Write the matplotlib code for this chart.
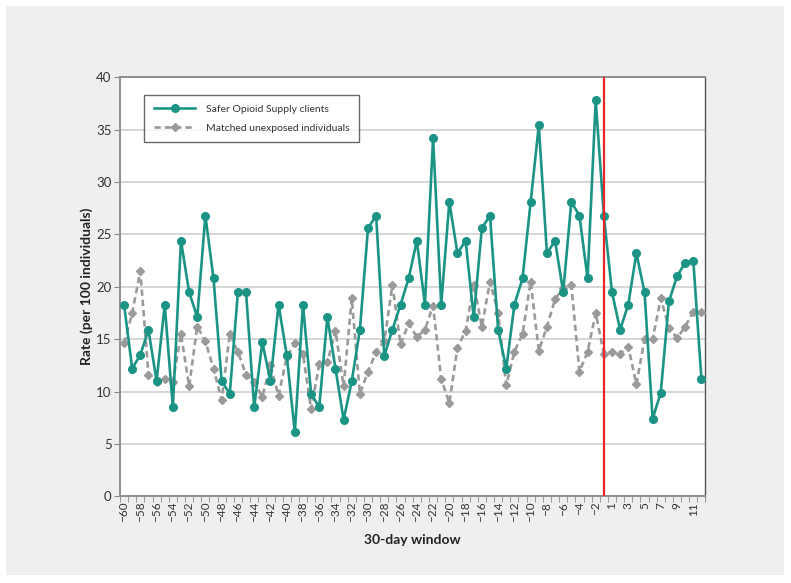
import numpy as np
import matplotlib
matplotlib.use("Agg")
import matplotlib.pyplot as plt
from matplotlib.patches import Rectangle

# 30-day windows: -60..-1, then 1..12 (no window 0)
windows = list(range(-60, 0)) + list(range(1, 13))

sos_clients = [
    18.3, 12.2, 13.5, 15.9, 11.0, 18.3, 8.5, 24.4, 19.5, 17.1,
    26.8, 20.8, 11.0, 9.8, 19.5, 19.5, 8.5, 14.7, 11.0, 18.3,
    13.5, 6.1, 18.3, 9.8, 8.5, 17.1, 12.2, 7.3, 11.0, 15.9,
    25.6, 26.8, 13.4, 15.9, 18.3, 20.8, 24.4, 18.3, 34.2, 18.3,
    28.1, 23.2, 24.4, 17.1, 25.6, 26.8, 15.9, 12.2, 18.3, 20.8,
    28.1, 35.4, 23.2, 24.4, 19.5, 28.1, 26.8, 20.8, 37.8, 26.8,
    19.5, 15.9, 18.3, 23.2, 19.5, 7.4, 9.9, 18.6, 21.0, 22.3,
    22.5, 11.2,
]

matched_unexposed = [
    14.6, 17.5, 21.5, 11.6, 10.9, 11.2, 10.9, 15.5, 10.5, 16.2,
    14.8, 12.2, 9.2, 15.5, 13.8, 11.6, 10.9, 9.5, 12.5, 9.6,
    13.3, 14.6, 13.6, 8.3, 12.6, 12.8, 15.8, 10.5, 18.9, 9.8,
    11.9, 13.8, 14.8, 20.2, 14.5, 16.5, 15.2, 15.9, 18.2, 11.2,
    8.9, 14.2, 15.8, 20.2, 16.2, 20.5, 17.5, 10.6, 13.8, 15.5,
    20.5, 13.9, 16.2, 18.8, 19.9, 20.2, 11.9, 13.8, 17.5, 13.6,
    13.8, 13.6, 14.3, 10.7, 15.0, 15.0, 18.9, 16.1, 15.1, 16.2,
    17.6, 17.6,
]

plt.rcParams["font.family"] = ["Lato", "DejaVu Sans"]

fig = plt.figure(figsize=(7.91, 5.83), dpi=100)
fig.patch.set_facecolor("white")
# light grey panel behind the chart
fig.patches.append(Rectangle((6 / 791, 8 / 583), 778 / 791, 569 / 583,
                             transform=fig.transFigure, facecolor="#eef0ef",
                             edgecolor="none", zorder=-1))

ax = fig.add_axes([0.1517, 0.1487, 0.7402, 0.7187])
ax.set_facecolor("white")

x = np.arange(len(windows))
ax.plot(x, sos_clients, color="#1b9486", lw=1.9, marker="o", ms=5.5,
        label="Safer Opioid Supply clients", zorder=4)
ax.plot(x, matched_unexposed, color="#9a9a9a", lw=1.9, ls=(0, (2.4, 1.5)),
        marker="D", ms=3.8, label="Matched unexposed individuals", zorder=3)

# red line marking the start of exposure
ax.axvline(windows.index(-1), color="#e8262a", lw=1.6, zorder=5)

ax.set_xlim(-0.5, len(windows) - 0.5)
ax.set_ylim(0, 40)
ax.set_yticks(range(0, 41, 5))
ax.yaxis.grid(True, color="#d6d6d6", lw=1.4)
ax.set_axisbelow(True)

ax.set_xticks(x[::2])
ax.set_xticklabels([str(w).replace("-", "\u2212") for w in windows[::2]],
                   rotation=90, fontsize=8.5, color="#333333")
ax.set_xticks(np.arange(-0.5, len(windows), 1), minor=True)
ax.tick_params(axis="x", which="major", length=0, pad=4)
ax.tick_params(axis="x", which="minor", length=4, color="#888888")
ax.tick_params(axis="y", length=4, color="#888888", labelsize=9.5,
               labelcolor="#333333", pad=2)

for side in ["left", "bottom", "top"]:
    ax.spines[side].set_color("#8f8f8f")
    ax.spines[side].set_linewidth(1.4)
ax.spines["right"].set_color("#555555")
ax.spines["right"].set_linewidth(1.0)

ax.set_xlabel("30-day window", fontsize=10, fontweight="bold",
              color="#222222", labelpad=8)
ax.set_ylabel("Rate (per 100 individuals)", fontsize=10, fontweight="bold",
              color="#222222", labelpad=2)

leg = ax.legend(loc="upper left", bbox_to_anchor=(0.0415, 0.958),
                borderaxespad=0, fontsize=7.5, frameon=True, fancybox=False,
                borderpad=0.9, handlelength=4.0, labelspacing=0.95,
                handletextpad=1.0)
leg.get_frame().set_edgecolor("#444444")
leg.get_frame().set_linewidth(1.0)
for t in leg.get_texts():
    t.set_color("#333333")

fig.savefig("out.png", dpi=100, facecolor=fig.get_facecolor())
